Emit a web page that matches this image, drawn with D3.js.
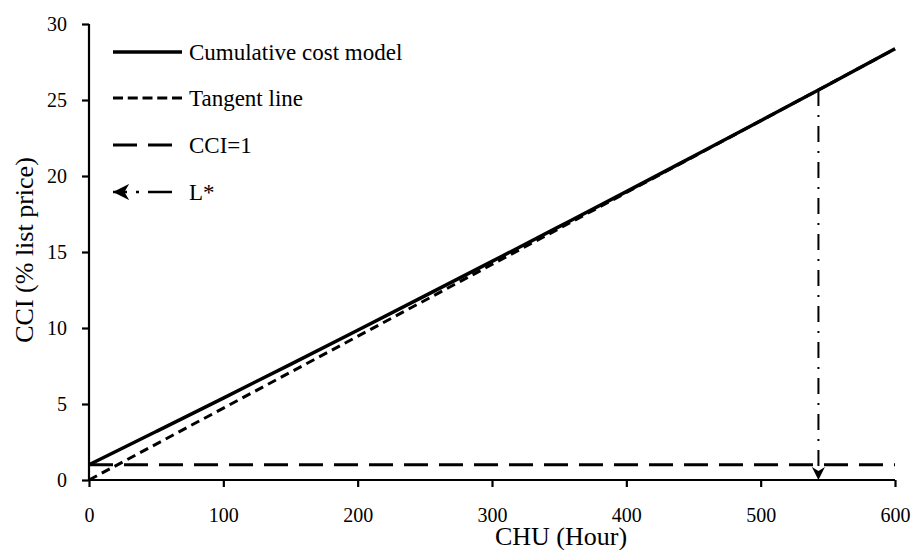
<!DOCTYPE html>
<html>
<head>
<meta charset="utf-8">
<script src="https://cdn.jsdelivr.net/npm/d3@7"></script>
<style>
  html, body { margin: 0; padding: 0; background: #fff; }
  svg { display: block; font-family: "Liberation Serif", "Times New Roman", serif; }
</style>
</head>
<body>
<svg id="chart" width="912" height="550"></svg>
<script>
// ---- data ----
const chuHours = [0, 50, 100, 150, 200, 250, 300, 350, 400, 450, 500, 550, 600];
const cumulativeCost = [1.00, 3.19, 5.39, 7.61, 9.85, 12.11, 14.38, 16.67, 18.97, 21.30, 23.64, 25.99, 28.37];
const tangentX = [0, 600];
const tangentY = [0, 28.36];
const cciOneX = [0, 600];
const cciOneY = [1, 1];
const lStarX = 543;
const lStarY = [25.66, 0];
const xTicks = [0, 100, 200, 300, 400, 500, 600];
const yTicks = [0, 5, 10, 15, 20, 25, 30];
const legendLabels = ["Cumulative cost model", "Tangent line", "CCI=1", "L*"];

// ---- layout ----
const svg = d3.select("#chart");
const x = d3.scaleLinear().domain([0, 600]).range([89, 895]);
const y = d3.scaleLinear().domain([0, 30]).range([480, 24]);

const defs = svg.append("defs");
defs.append("marker")
  .attr("id", "arrow")
  .attr("viewBox", "0 0 10 10")
  .attr("refX", 10).attr("refY", 5)
  .attr("markerWidth", 6.5).attr("markerHeight", 6.5)
  .attr("markerUnits", "strokeWidth")
  .attr("orient", "auto")
  .append("path")
  .attr("d", "M0,0 L10,5 L0,10 L3,5 Z")
  .attr("fill", "#000");

// axes
const xAxis = d3.axisBottom(x).tickValues(xTicks).tickSize(7).tickPadding(21).tickFormat(d3.format("d"));
const yAxis = d3.axisLeft(y).tickValues(yTicks).tickSize(7).tickPadding(15).tickFormat(d3.format("d"));

const gx = svg.append("g").attr("transform", "translate(0,480)").call(xAxis);
const gy = svg.append("g").attr("transform", "translate(89,0)").call(yAxis);
[gx, gy].forEach(g => {
  g.select(".domain").attr("stroke", "#000").attr("stroke-width", 2.2);
  g.selectAll(".tick line").attr("stroke", "#000").attr("stroke-width", 2.2);
  g.selectAll(".tick text").attr("fill", "#000").style("font-size", "20px")
    .style("font-family", "'Liberation Serif', 'Times New Roman', serif");
});
gx.select(".domain").attr("d", `M${x(0)},0H${x(600)}`);
gy.select(".domain").attr("d", `M0,${y(0)}V${y(30)}`);

// lines
const line = d3.line().x(d => x(d[0])).y(d => y(d[1]));

svg.append("path")
  .datum(cciOneX.map((v, i) => [v, cciOneY[i]]))
  .attr("d", line).attr("fill", "none").attr("stroke", "#000")
  .attr("stroke-width", 3).attr("stroke-dasharray", "24,11");

svg.append("path")
  .datum(tangentX.map((v, i) => [v, tangentY[i]]))
  .attr("d", line).attr("fill", "none").attr("stroke", "#000")
  .attr("stroke-width", 3).attr("stroke-dasharray", "9,5.5");

svg.append("path")
  .datum(chuHours.map((v, i) => [v, cumulativeCost[i]]))
  .attr("d", d3.line().x(d => x(d[0])).y(d => y(d[1])).curve(d3.curveMonotoneX))
  .attr("fill", "none").attr("stroke", "#000").attr("stroke-width", 3.5);

svg.append("path")
  .datum(lStarY.map(v => [lStarX, v]))
  .attr("d", line).attr("fill", "none").attr("stroke", "#000")
  .attr("stroke-width", 2).attr("stroke-dasharray", "16,9,2,9")
  .attr("marker-end", "url(#arrow)");

// legend
const legendY = [52, 98, 145, 192];
const lg = svg.append("g");
const lx0 = 113, lx1 = 182;
lg.append("line").attr("x1", lx0).attr("x2", lx1).attr("y1", legendY[0]).attr("y2", legendY[0])
  .attr("stroke", "#000").attr("stroke-width", 3.5);
lg.append("line").attr("x1", lx0).attr("x2", lx1).attr("y1", legendY[1]).attr("y2", legendY[1])
  .attr("stroke", "#000").attr("stroke-width", 3).attr("stroke-dasharray", "10,4.75");
lg.append("line").attr("x1", lx0).attr("x2", 172).attr("y1", legendY[2]).attr("y2", legendY[2])
  .attr("stroke", "#000").attr("stroke-width", 3).attr("stroke-dasharray", "24,11");
lg.append("line").attr("x1", 172).attr("x2", lx0).attr("y1", legendY[3]).attr("y2", legendY[3])
  .attr("stroke", "#000").attr("stroke-width", 2.5).attr("stroke-dasharray", "24,9,3,9")
  .attr("marker-end", "url(#arrow)");
lg.selectAll("text").data(legendLabels).enter().append("text")
  .attr("x", 189).attr("y", (d, i) => legendY[i] + 8)
  .style("font-size", "23px").attr("fill", "#000")
  .text(d => d);

// axis titles
svg.append("text")
  .attr("x", 561).attr("y", 545).attr("text-anchor", "middle")
  .style("font-size", "26px").attr("fill", "#000")
  .text("CHU (Hour)");
svg.append("text")
  .attr("transform", "translate(33,250) rotate(-90)")
  .attr("text-anchor", "middle")
  .style("font-size", "26px").attr("fill", "#000")
  .text("CCI (% list price)");
</script>
</body>
</html>
